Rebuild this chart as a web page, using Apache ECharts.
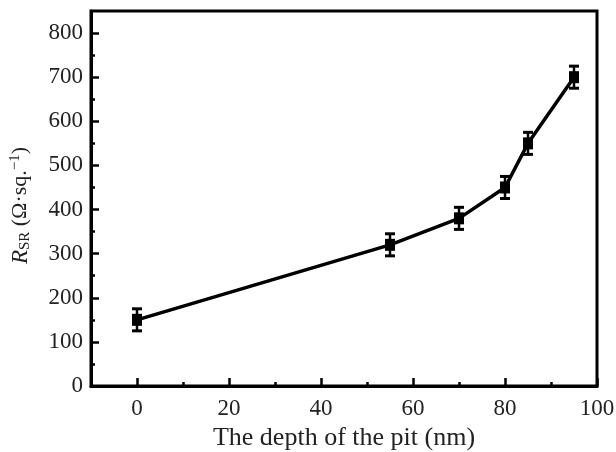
<!DOCTYPE html>
<html>
<head>
<meta charset="utf-8">
<script src="https://cdn.jsdelivr.net/npm/echarts@6/dist/echarts.min.js"></script>
<style>
html,body{margin:0;padding:0;background:#fff;}
#c{width:616px;height:452px;}
</style>
</head>
<body>
<div id="c"></div>
<script>
const depth = [0, 55, 70, 80, 85, 95];
const rsr = [150, 320, 380, 450, 550, 700];
const err = [25, 25, 25, 25, 25, 25];
const xMajorTicks = [0, 20, 40, 60, 80, 100];
const xMinorTicks = [-10, 10, 30, 50, 70, 90];
const yMajorTicks = [0, 100, 200, 300, 400, 500, 600, 700, 800];
const yMinorTicks = [50, 150, 250, 350, 450, 550, 650, 750];

const FONT = '"Liberation Serif", "DejaVu Serif", serif';
const TXT = '#222';
const chart = echarts.init(document.getElementById('c'));

const errData = depth.map((d, i) => [d, rsr[i] - err[i], rsr[i] + err[i]]);
const lineData = depth.map((d, i) => [d, rsr[i]]);

chart.setOption({
  animation: false,
  backgroundColor: '#fff',
  grid: { left: 91, right: 19, top: 11, bottom: 66, outerBoundsMode: 'none', containLabel: false, show: true, borderColor: '#000', borderWidth: 3, backgroundColor: 'transparent' },
  xAxis: [{
    type: 'value', min: -10, max: 100, position: 'bottom',
    name: 'The depth of the pit (nm)', nameLocation: 'middle', nameGap: 38,
    nameTextStyle: { fontFamily: FONT, fontSize: 26, color: TXT },
    axisLine: { show: true, onZero: false, lineStyle: { color: '#000', width: 3 } },
    axisTick: { show: true, inside: true, length: 8, lineStyle: { color: '#000', width: 2.5 }, customValues: xMajorTicks },
    axisLabel: { fontFamily: FONT, fontSize: 23, color: TXT, margin: 11, customValues: xMajorTicks },
    splitLine: { show: false }
  }, {
    type: 'value', min: -10, max: 100, position: 'bottom',
    axisLine: { show: false, onZero: false },
    axisTick: { show: true, inside: true, length: 4, lineStyle: { color: '#000', width: 2.5 }, customValues: xMinorTicks },
    axisLabel: { show: false },
    splitLine: { show: false }
  }],
  yAxis: [{
    type: 'value', min: 0, max: 850, position: 'left',
    name: '{i|R}{sub|SR}{n| (Ω·sq.}{sup|−1}{n|)}', nameLocation: 'middle', nameGap: 58, nameRotate: 90,
    nameTextStyle: {
      fontFamily: FONT, fontSize: 22, color: TXT, padding: [0, 14, 0, 0],
      rich: {
        i: { fontFamily: FONT, fontSize: 23, fontStyle: 'italic', color: TXT },
        sub: { fontFamily: FONT, fontSize: 15, color: TXT, padding: [10, 0, 0, 0] },
        sup: { fontFamily: FONT, fontSize: 15, color: TXT, padding: [0, 0, 10, 0] },
        n: { fontFamily: FONT, fontSize: 22, color: TXT }
      }
    },
    axisLine: { show: true, onZero: false, lineStyle: { color: '#000', width: 3 } },
    axisTick: { show: true, inside: true, length: 8, lineStyle: { color: '#000', width: 2.5 }, customValues: yMajorTicks },
    axisLabel: { fontFamily: FONT, fontSize: 23, color: TXT, margin: 8, customValues: yMajorTicks },
    splitLine: { show: false }
  }, {
    type: 'value', min: 0, max: 850, position: 'left',
    axisLine: { show: false, onZero: false },
    axisTick: { show: true, inside: true, length: 4, lineStyle: { color: '#000', width: 2.5 }, customValues: yMinorTicks },
    axisLabel: { show: false },
    splitLine: { show: false }
  }],
  series: [{
    type: 'line', xAxisIndex: 0, yAxisIndex: 0,
    data: lineData,
    symbol: 'rect', symbolSize: [10, 12],
    lineStyle: { color: '#000', width: 3.5 },
    itemStyle: { color: '#000' },
    z: 3
  }, {
    type: 'custom', xAxisIndex: 0, yAxisIndex: 0,
    data: errData,
    renderItem: function (params, api) {
      const x = api.value(0);
      const top = api.coord([x, api.value(2)]);
      const bot = api.coord([x, api.value(1)]);
      const hw = 5;
      return {
        type: 'group',
        children: [
          { type: 'line', shape: { x1: top[0], y1: top[1], x2: bot[0], y2: bot[1] }, style: { stroke: '#000', lineWidth: 2.5 } },
          { type: 'line', shape: { x1: top[0] - hw, y1: top[1], x2: top[0] + hw, y2: top[1] }, style: { stroke: '#000', lineWidth: 3 } },
          { type: 'line', shape: { x1: bot[0] - hw, y1: bot[1], x2: bot[0] + hw, y2: bot[1] }, style: { stroke: '#000', lineWidth: 3 } }
        ]
      };
    },
    z: 4
  }]
});
</script>
</body>
</html>
